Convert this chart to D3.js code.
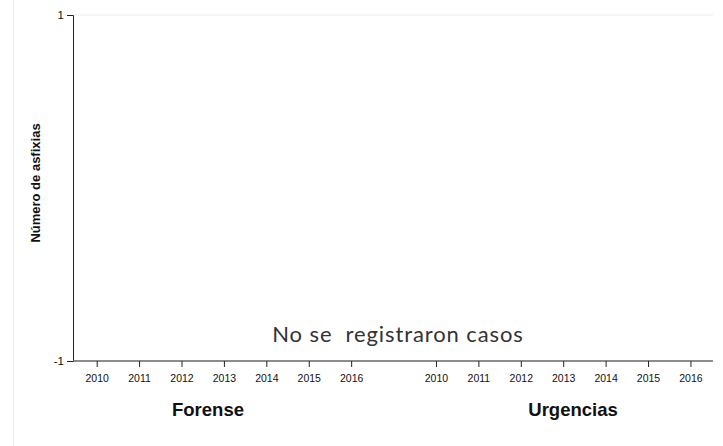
<!DOCTYPE html>
<html>
<head>
<meta charset="utf-8">
<script src="https://cdn.jsdelivr.net/npm/d3@7"></script>
<style>
  body { margin: 0; background: #fff; }
</style>
</head>
<body>
<script>
// data
var years = ["2010", "2011", "2012", "2013", "2014", "2015", "2016"];
var panels = ["Forense", "Urgencias"];
var yTicks = [-1, 1];
var forenseValues = [];   // no cases recorded
var urgenciasValues = [];
var noDataText = "No se\u00a0 registraron casos";

var baseFont = "'Liberation Sans', Arial, Helvetica, sans-serif";

function main() {
    var width = 723, height = 446;
    var margin = {top: 15, right: 10, bottom: 85, left: 73};

    var svg = d3.select("body").append("svg")
        .attr("width", width)
        .attr("height", height)
        .style("font-family", baseFont);

    // faint frame line on the left
    svg.append("line")
        .attr("x1", 13.5).attr("x2", 13.5)
        .attr("y1", 0).attr("y2", height)
        .attr("stroke", "#eeeeee");

    // one slot per year, one empty slot between panels
    var x = d3.scaleLinear()
        .domain([-0.57, 14.52])
        .range([margin.left, width - margin.right]);

    var y = d3.scaleLinear()
        .domain([-1, 1])
        .range([height - margin.bottom, margin.top]);

    // top gridline
    svg.append("line")
        .attr("x1", margin.left).attr("x2", width - margin.right)
        .attr("y1", y(1)).attr("y2", y(1))
        .attr("stroke", "#eaf0f4")
        .attr("stroke-width", 1.2);

    // y axis
    svg.append("g")
        .attr("transform", "translate(" + margin.left + ",0)")
        .call(d3.axisLeft(y).tickValues(yTicks).tickSize(6).tickPadding(3).tickFormat(d => String(d)))
        .call(g => g.attr("font-family", null))
        .call(g => g.select(".domain").attr("stroke", "#222"))
        .call(g => g.selectAll(".tick line").attr("stroke", "#222"))
        .call(g => g.selectAll("text").attr("font-size", 11.5).attr("fill", "#111"));

    // x axis baseline
    svg.append("line")
        .attr("x1", margin.left).attr("x2", width - margin.right)
        .attr("y1", y(-1)).attr("y2", y(-1))
        .attr("stroke", "#666")
        .attr("stroke-width", 1.3);

    // ticks for each panel
    panels.forEach(function(p, pi) {
        var offset = pi * 8;
        var g = svg.append("g")
            .attr("transform", "translate(0," + y(-1) + ")");

        g.selectAll("line.tick")
            .data(years)
            .enter().append("line")
            .attr("class", "tick")
            .attr("x1", (d, i) => x(i + offset)).attr("x2", (d, i) => x(i + offset))
            .attr("y1", 0).attr("y2", 6)
            .attr("stroke", "#222");

        g.selectAll("text.lab")
            .data(years)
            .enter().append("text")
            .attr("class", "lab")
            .attr("x", (d, i) => x(i + offset))
            .attr("y", 21)
            .attr("text-anchor", "middle")
            .attr("font-size", 10.5)
            .attr("fill", "#111")
            .text(d => d);
    });

    // panel titles
    var titleX = [208, 573];
    svg.selectAll("text.panel")
        .data(panels)
        .enter().append("text")
        .attr("class", "panel")
        .attr("x", (d, i) => titleX[i])
        .attr("y", 416)
        .attr("text-anchor", "middle")
        .attr("font-size", 18.5)
        .attr("font-weight", "bold")
        .attr("fill", "#111")
        .text(d => d);

    // y axis title
    svg.append("text")
        .attr("transform", "translate(40,183) rotate(-90)")
        .attr("text-anchor", "middle")
        .attr("font-size", 13)
        .attr("font-weight", "bold")
        .attr("fill", "#111")
        .text("Número de asfixias");

    // empty notice
    if (forenseValues.length == 0 && urgenciasValues.length == 0) {
        svg.append("text")
            .attr("x", 398)
            .attr("y", 342)
            .attr("text-anchor", "middle")
            .attr("font-size", 22)
            .attr("fill", "#333")
            .style("font-family", "Lato, sans-serif")
            .attr("letter-spacing", 0.9)
            .text(noDataText);
    }
}

main();
</script>
</body>
</html>
